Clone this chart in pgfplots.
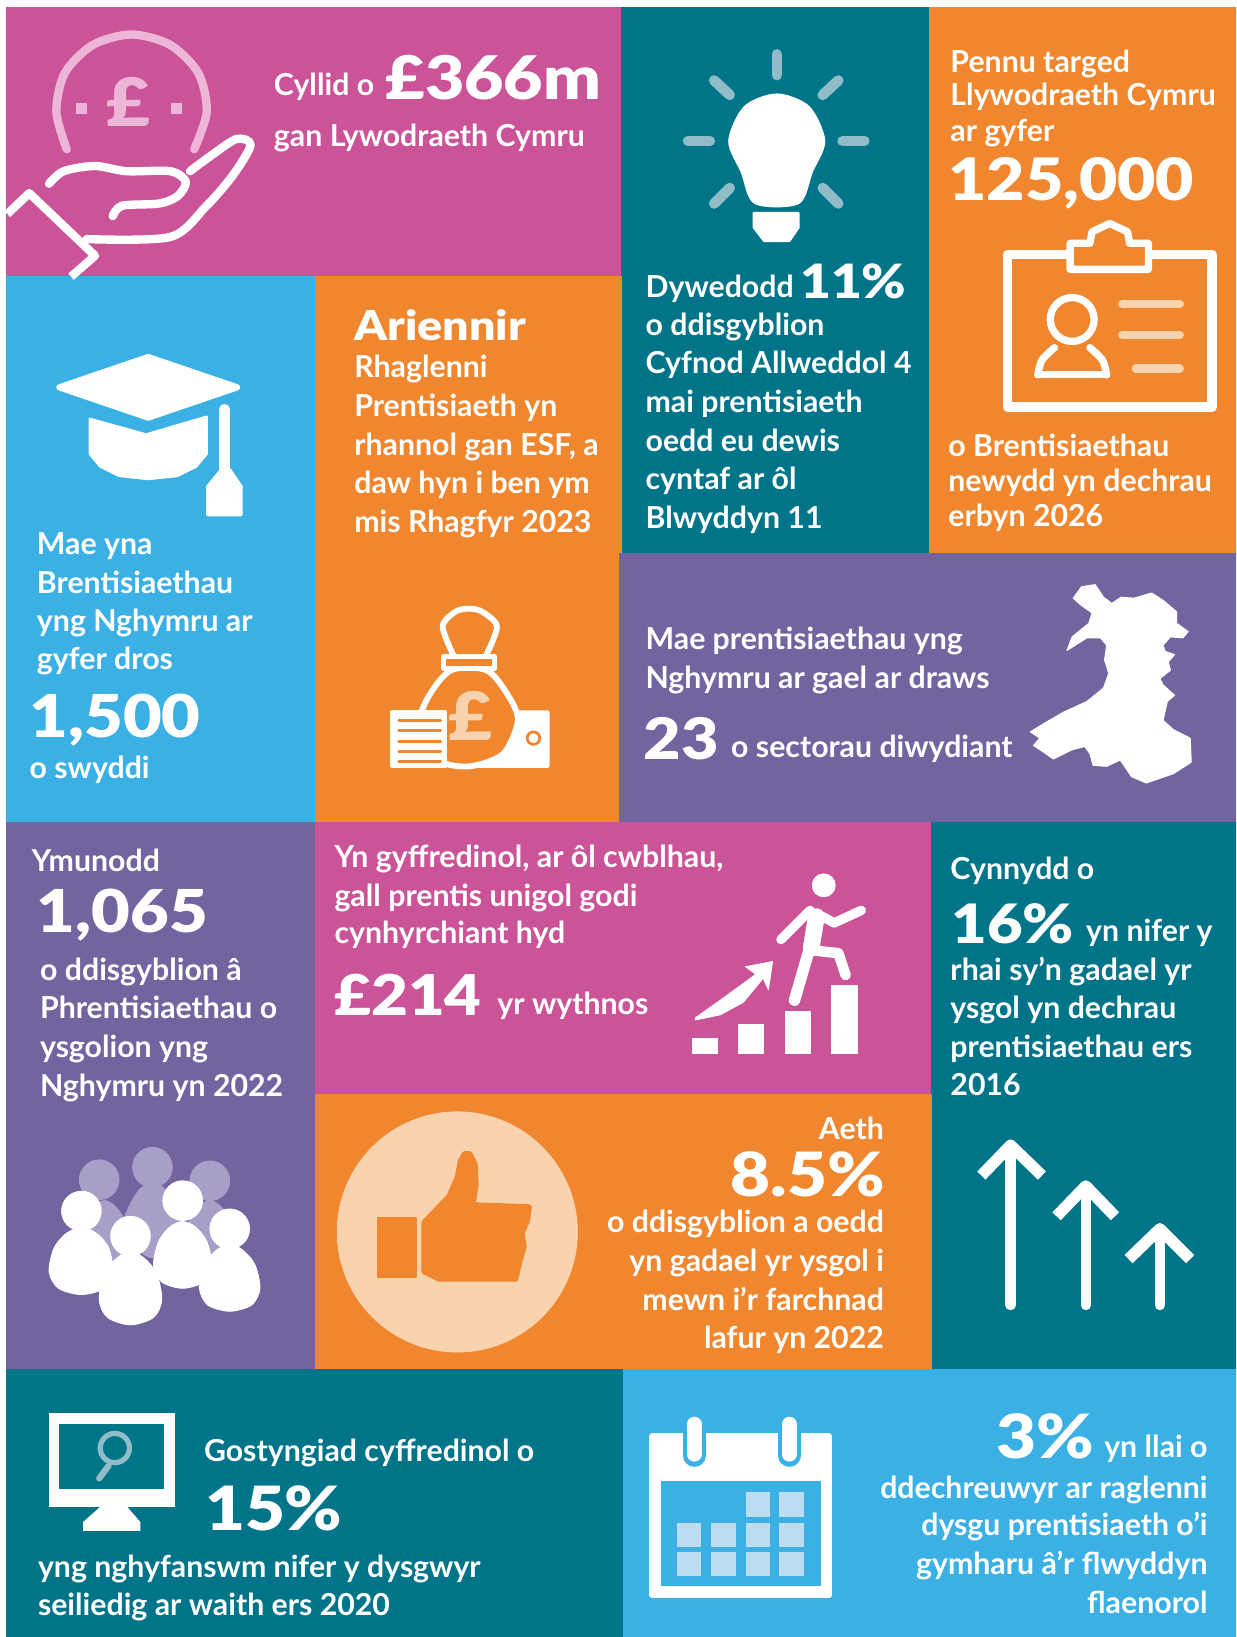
\documentclass[border=0pt]{standalone}
\usepackage{fontspec}
\setmainfont{Lato}[BoldFont=Lato Bold]
\newfontfamily\bigf{Lato Black}[FakeStretch=1.13]
\usepackage{pgfplots}
\pgfplotsset{compat=1.18}
\definecolor{pinkp}{HTML}{CB5498}
\definecolor{tealp}{HTML}{007489}
\definecolor{orangep}{HTML}{F0862E}
\definecolor{bluep}{HTML}{3BB0E4}
\definecolor{purplep}{HTML}{72659F}
\definecolor{palepink}{HTML}{EDB5D6}
\definecolor{paleteal}{HTML}{8FBCC6}
\definecolor{paleorange}{HTML}{F9D3AE}
\definecolor{palepurple}{HTML}{A89FC8}
\definecolor{paleblue}{HTML}{BDDCF0}
% text helpers: one line at a baseline, in reference units
\newcommand{\Tl}[4][14.5]{\node[anchor=base west,inner sep=0pt,text=white,font=\fontsize{#1}{#1}\selectfont\bfseries] at (axis cs:#2,#3) {#4};}
\newcommand{\Tr}[4][14.5]{\node[anchor=base east,inner sep=0pt,text=white,font=\fontsize{#1}{#1}\selectfont\bfseries] at (axis cs:#2,#3) {#4};}
\newcommand{\Bl}[4][30]{\node[anchor=base west,inner sep=0pt,text=white,font=\fontsize{#1}{#1}\bigf] at (axis cs:#2,#3) {#4};}
\newcommand{\Br}[4][30]{\node[anchor=base east,inner sep=0pt,text=white,font=\fontsize{#1}{#1}\bigf] at (axis cs:#2,#3) {#4};}
\newcommand{\Panel}[5]{\addplot[fill=#1,draw=#1,line width=0.3pt] coordinates {(#2,#3)(#4,#3)(#4,#5)(#2,#5)} --cycle;}
\begin{document}
\begin{tikzpicture}
\begin{axis}[
  scale only axis, width=592pt, height=784pt,
  xmin=0, xmax=1184, ymin=0, ymax=1568, y dir=reverse,
  hide axis, clip mode=individual,
  line cap=round, line join=round,
]
% page, then panels
\addplot[fill=white,draw=none] coordinates {(0,0)(1184,0)(1184,1568)(0,1568)} --cycle;
\Panel{pinkp}{6}{7}{595}{265}
\Panel{tealp}{595}{7}{890}{530}
\Panel{orangep}{890}{7}{1184}{530}
\Panel{bluep}{6}{265}{302}{788}
\Panel{orangep}{302}{265}{595}{788}
\Panel{purplep}{593}{530}{1184}{788}
\Panel{purplep}{6}{788}{302}{1312}
\Panel{pinkp}{302}{788}{892}{1048}
\Panel{tealp}{892}{788}{1184}{1312}
\Panel{orangep}{302}{1048}{892}{1312}
\Panel{tealp}{6}{1312}{597}{1568}
\Panel{bluep}{597}{1312}{1184}{1568}

% coin in hand
\addplot[palepink,line width=4pt,smooth] coordinates {(64,143)(54,107)(62,70)(89,43)(126,33)(163,43)(190,70)(198,107)(186,143)};
\addplot[palepink,only marks,mark=square*,mark size=2.5pt] coordinates {(78,104)(169,104)};
\node[text=palepink,inner sep=0pt,anchor=base,font=\fontsize{32}{32}\bigf] at (axis cs:123,121) {£};
\addplot[white,line width=4pt,line cap=butt] coordinates {(7,205)(28,185)(91,245)(68,265)};
\addplot[white,line width=4pt,smooth] coordinates {(83,229)(163,227)(197,198)(223,168)(240,139)(227,133)(205,147)(182,164)};
\addplot[white,line width=4pt,smooth] coordinates {(47,176)(61,164)(91,159)(121,164)(163,164)(178,174)(170,188)(152,195)(117,197)(108,207)};

% light bulb
\addplot[paleteal,line width=5pt] coordinates {(744,52)(744,72)};
\addplot[paleteal,line width=5pt] coordinates {(684,77)(699,91)};
\addplot[paleteal,line width=5pt] coordinates {(803,77)(788,91)};
\addplot[paleteal,line width=5pt] coordinates {(659,135)(680,135)};
\addplot[paleteal,line width=5pt] coordinates {(807,135)(828,135)};
\addplot[paleteal,line width=5pt] coordinates {(684,195)(699,180)};
\addplot[paleteal,line width=5pt] coordinates {(803,195)(788,180)};
\addplot[white,fill=white,line width=0.5pt,smooth cycle] coordinates {(744,90)(775,102)(790,135)(778,165)(765,195)(723,195)(710,165)(698,135)(713,102)};
\addplot[white,fill=white,line width=1pt] coordinates {(722,204)(765,204)(765,218)(756,231)(732,231)(722,218)} --cycle;

% badge
\addplot[white,line width=4.5pt] coordinates {(965,244)(1161,244)(1161,390)(965,390)} --cycle;
\addplot[white,fill=orangep,line width=3.5pt] coordinates {(1025,258)(1025,233)(1044,233)(1046,222)(1063,214)(1080,222)(1082,233)(1100,233)(1100,258)} --cycle;
\addplot[white,only marks,mark=o,mark size=10.5pt,mark options={line width=3.5pt}] coordinates {(1027,306)};
\addplot[white,line width=3.5pt,smooth] coordinates {(1010,333)(998,345)(994,359)};
\addplot[white,line width=3.5pt] coordinates {(994,359)(1060,359)};
\addplot[white,line width=3.5pt,smooth] coordinates {(1044,333)(1056,345)(1060,359)};
\addplot[paleorange,line width=4pt] coordinates {(1075,291)(1130,291)};
\addplot[paleorange,line width=4pt] coordinates {(1075,321)(1130,321)};
\addplot[paleorange,line width=4pt] coordinates {(1088,353)(1130,353)};

% graduation cap
\addplot[white,fill=white,line width=3pt] coordinates {(57,371)(142,342)(227,371)(142,400)} --cycle;
\addplot[white,fill=white,line width=1pt] coordinates {(86,401)(140,416)(198,399)(198,435)(188,447)(170,456)(142,459)(114,456)(96,447)(86,435)} --cycle;
\addplot[white,line width=5pt] coordinates {(215,392)(215,450)};
\addplot[white,fill=white,line width=1.5pt] coordinates {(199,466)(212,450)(220,450)(231,466)(231,493)(199,493)} --cycle;

% money bag
\addplot[white,fill=white,line width=1.5pt] coordinates {(490,682)(525,682)(525,734)(450,734)} --cycle;
\addplot[orangep,only marks,mark=o,mark size=3pt,mark options={line width=1.3pt}] coordinates {(511,707)};
\addplot[white,fill=orangep,line width=2.8pt,smooth cycle] coordinates {(432,642)(410,668)(402,695)(420,728)(450,734)(482,722)(496,690)(486,665)(466,642)};
\addplot[white,line width=2.8pt,smooth] coordinates {(434,627)(424,600)(436,586)(449,583)(462,586)(476,600)(466,627)};
\addplot[white,fill=orangep,line width=2.5pt] coordinates {(425,629)(474,629)(474,640)(425,640)} --cycle;
\node[text=paleorange,inner sep=0pt,anchor=base,font=\fontsize{32}{32}\bigf] at (axis cs:451,709) {£};
\addplot[white,fill=white,line width=2pt] coordinates {(376,682)(426,682)(426,734)(376,734)} --cycle;
\addplot[orangep,line width=1.5pt] coordinates {(382,690)(422,690)};
\addplot[orangep,line width=1.5pt] coordinates {(382,700)(422,700)};
\addplot[orangep,line width=1.5pt] coordinates {(382,710)(422,710)};
\addplot[orangep,line width=1.5pt] coordinates {(382,720)(422,720)};
\addplot[orangep,line width=1.5pt] coordinates {(382,729)(422,729)};

% Wales
\addplot[white,fill=white,line width=0.5pt] coordinates {(1028,573)(1036,562)(1049,560)(1057,572)(1065,578)(1074,572)(1086,573)(1103,568)(1114,575)(1127,586)(1127,597)(1138,605)(1133,611)(1121,610)(1114,618)(1116,624)(1125,627)(1119,634)(1121,642)(1111,650)(1114,656)(1125,666)(1118,672)(1114,690)(1124,699)(1140,707)(1141,730)(1124,741)(1098,750)(1084,744)(1073,728)(1060,734)(1047,733)(1044,722)(1039,715)(1027,718)(1009,727)(999,720)(990,714)(996,707)(987,701)(1000,693)(1019,682)(1041,672)(1057,659)(1062,645)(1058,632)(1060,618)(1054,611)(1041,611)(1022,623)(1027,610)(1043,597)(1046,587)(1036,580)} --cycle;

% people
\addplot[palepurple,only marks,mark=*,mark size=9.5pt] coordinates {(95,1130)(146,1118)(201,1131)};
\addplot[palepurple,fill=palepurple,smooth cycle] coordinates {(75,1195)(80,1170)(90,1155)(100,1150)(110,1155)(120,1170)(125,1195)(100,1215)};
\addplot[palepurple,fill=palepurple,smooth cycle] coordinates {(118,1180)(124,1155)(135,1138)(146,1133)(157,1138)(168,1155)(174,1180)(146,1205)};
\addplot[palepurple,fill=palepurple,smooth cycle] coordinates {(176,1195)(181,1170)(191,1155)(201,1150)(211,1155)(221,1170)(226,1195)(201,1215)};
\addplot[white,only marks,mark=*,mark size=9.5pt] coordinates {(78,1160)(175,1150)};
\addplot[white,fill=white,smooth cycle] coordinates {(47,1218)(52,1195)(64,1181)(78,1176)(92,1181)(104,1195)(108,1218)(100,1234)(78,1240)(56,1234)};
\addplot[white,fill=white,smooth cycle] coordinates {(147,1212)(152,1189)(163,1175)(175,1170)(187,1175)(198,1189)(203,1212)(195,1228)(175,1234)(155,1228)};
\addplot[white,only marks,mark=*,mark size=9.5pt] coordinates {(125,1184)(220,1177)};
\addplot[white,fill=white,smooth cycle] coordinates {(95,1245)(100,1220)(112,1205)(125,1199)(138,1205)(150,1220)(155,1245)(147,1262)(125,1269)(103,1262)};
\addplot[white,fill=white,smooth cycle] coordinates {(191,1234)(196,1211)(208,1197)(220,1192)(232,1197)(244,1211)(249,1234)(241,1250)(220,1256)(199,1250)};

% thumbs up
\addplot[paleorange,only marks,mark=*,mark size=57.5pt] coordinates {(438,1180)};
\addplot[orangep,fill=orangep,line width=1pt] coordinates {(362,1167)(398,1167)(398,1223)(362,1223)} --cycle;
\addplot[orangep,fill=orangep,line width=2.5pt] coordinates {(406,1171)(430,1146)(438,1128)(441,1112)(445,1105)(450,1105)(455,1115)(456,1135)(453,1154)(507,1156)(505,1170)(500,1181)(502,1194)(498,1208)(494,1225)(420,1225)(406,1218)} --cycle;

% arrows
\addplot[white,line width=5pt] coordinates {(968,1250)(968,1098)};
\addplot[white,line width=5.5pt,line cap=butt] coordinates {(940,1126)(968,1097)(998,1126)};
\addplot[white,line width=5pt] coordinates {(1040,1250)(1040,1136)};
\addplot[white,line width=5.5pt,line cap=butt] coordinates {(1012,1165)(1040,1136)(1068,1165)};
\addplot[white,line width=5pt] coordinates {(1111,1250)(1111,1177)};
\addplot[white,line width=5.5pt,line cap=butt] coordinates {(1081,1206)(1111,1177)(1140,1206)};

% calendar
\addplot[white,fill=white,line width=3pt] coordinates {(625,1376)(794,1376)(794,1528)(625,1528)} --cycle;
\addplot[bluep,fill=bluep] coordinates {(634,1419)(786,1419)(786,1519)(634,1519)} --cycle;
\addplot[bluep,line width=11pt] coordinates {(665,1370)(665,1394)};
\addplot[bluep,line width=11pt] coordinates {(756,1370)(756,1394)};
\addplot[white,line width=7pt] coordinates {(665,1364)(665,1393)};
\addplot[white,line width=7pt] coordinates {(756,1364)(756,1393)};
\addplot[paleblue,only marks,mark=square*,mark size=5.6pt] coordinates {(726,1441)(758,1441)(660,1470)(693,1470)(726,1470)(758,1470)(660,1498)(693,1498)(726,1498)(758,1498)};

% monitor
\addplot[white,fill=white] coordinates {(47,1354)(167,1354)(167,1443)(47,1443)} --cycle;
\addplot[tealp,fill=tealp] coordinates {(57,1364)(157,1364)(157,1426)(57,1426)} --cycle;
\addplot[white,fill=white] coordinates {(97,1443)(121,1443)(134,1458)(134,1466)(80,1466)(80,1458)} --cycle;
\addplot[paleteal,only marks,mark=o,mark size=7pt,mark options={line width=2.5pt}] coordinates {(110,1387)};
\addplot[paleteal,line width=3pt] coordinates {(104,1404)(95,1416)};

% stairs figure
\addplot[white,fill=white] coordinates {(663,995)(687,995)(687,1009)(663,1009)} --cycle;
\addplot[white,fill=white] coordinates {(707,981)(731,981)(731,1009)(707,1009)} --cycle;
\addplot[white,fill=white] coordinates {(752,969)(776,969)(776,1009)(752,1009)} --cycle;
\addplot[white,fill=white] coordinates {(796,944)(821,944)(821,1009)(796,1009)} --cycle;
\addplot[white,only marks,mark=*,mark size=5.5pt] coordinates {(789,848)};
\addplot[white,line width=4.5pt] coordinates {(776,872)(748,900)};
\addplot[white,line width=4.5pt] coordinates {(788,878)(799,884)(825,872)};
\addplot[white,line width=8pt] coordinates {(782,878)(777,908)};
\addplot[white,line width=5.5pt] coordinates {(775,910)(761,958)};
\addplot[white,line width=5pt] coordinates {(776,910)(803,913)(810,934)};
\addplot[white,fill=white] coordinates {(666,975)(690,958)(712,942)(724,933)(714,926)(740,921)(736,948)(731,937)(712,960)(690,972)(666,977)} --cycle;

% texts
\Tl{262}{91}{Cyllid o}
\Bl[28.8]{369}{95}{£366m}
\Tl{262}{140}{gan Lywodraeth Cymru}

\Bl[19.7]{339}{326}{Ariennir}
\Tl{339}{362}{Rhaglenni}
\Tl{339}{399}{Prentisiaeth yn}
\Tl{339}{436}{rhannol gan ESF, a}
\Tl{339}{473}{daw hyn i ben ym}
\Tl{339}{510}{mis Rhagfyr 2023}

\Tl{35}{531}{Mae yna}
\Tl{35}{568}{Brentisiaethau}
\Tl{35}{605}{yng Nghymru ar}
\Tl{35}{641}{gyfer dros}
\Bl[28.3]{28}{706}{1,500}
\Tl{28}{746}{o swyddi}

\Tl{618}{285}{Dywedodd}
\Bl[22.6]{766}{286}{11\%}
\Tl{618}{321}{o ddisgyblion}
\Tl{618}{358}{Cyfnod Allweddol 4}
\Tl{618}{395}{mai prentisiaeth}
\Tl{618}{432}{oedd eu dewis}
\Tl{618}{469}{cyntaf ar ôl}
\Tl{618}{506}{Blwyddyn 11}

\Tl{910}{69}{Pennu targed}
\Tl{910}{101}{Llywodraeth Cymru}
\Tl{910}{136}{ar gyfer}
\Bl[28]{908}{192}{125,000}
\Tl{908}{437}{o Brentisiaethau}
\Tl{908}{471}{newydd yn dechrau}
\Tl{908}{504}{erbyn 2026}

\Tl{618}{622}{Mae prentisiaethau yng}
\Tl{618}{659}{Nghymru ar gael ar draws}
\Bl[27.4]{616}{727}{23}
\Tl{700}{726}{o sectorau diwydiant}

\Tl{30}{835}{Ymunodd}
\Bl[28.3]{35}{893}{1,065}
\Tl{38}{939}{o ddisgyblion â}
\Tl{38}{976}{Phrentisiaethau o}
\Tl{38}{1013}{ysgolion yng}
\Tl{38}{1050}{Nghymru yn 2022}

\Tl{320}{831}{Yn gyffredinol, ar ôl cwblhau,}
\Tl{320}{868}{gall prentis unigol godi}
\Tl{320}{904}{cynhyrchiant hyd}
\Bl[26.9]{320}{973}{£214}
\Tl{476}{972}{yr wythnos}

\Tl{910}{842}{Cynnydd o}
\Bl[26]{911}{904}{16\%}
\Tl{1040}{902}{yn nifer y}
\Tl{910}{939}{rhai sy'n gadael yr}
\Tl{910}{976}{ysgol yn dechrau}
\Tl{910}{1013}{prentisiaethau ers}
\Tl{910}{1049}{2016}

\Tr{847}{1091}{Aeth}
\Br[29.2]{848}{1146}{8.5\%}
\Tr{847}{1181}{o ddisgyblion a oedd}
\Tr{847}{1218}{yn gadael yr ysgol i}
\Tr{847}{1255}{mewn i'r farchnad}
\Tr{847}{1292}{lafur yn 2022}

\Tl{195}{1400}{Gostyngiad cyffredinol o}
\Bl[29.2]{196}{1466}{15\%}
\Tl{36}{1511}{yng nghyfanswm nifer y dysgwyr}
\Tl{36}{1547}{seiliedig ar waith ers 2020}

\Br[29.2]{1048}{1397}{3\%}
\Tr{1157}{1396}{yn llai o}
\Tr{1157}{1435}{ddechreuwyr ar raglenni}
\Tr{1157}{1471}{dysgu prentisiaeth o'i}
\Tr{1157}{1508}{gymharu â'r flwyddyn}
\Tr{1157}{1545}{flaenorol}
\end{axis}
\end{tikzpicture}
\end{document}
